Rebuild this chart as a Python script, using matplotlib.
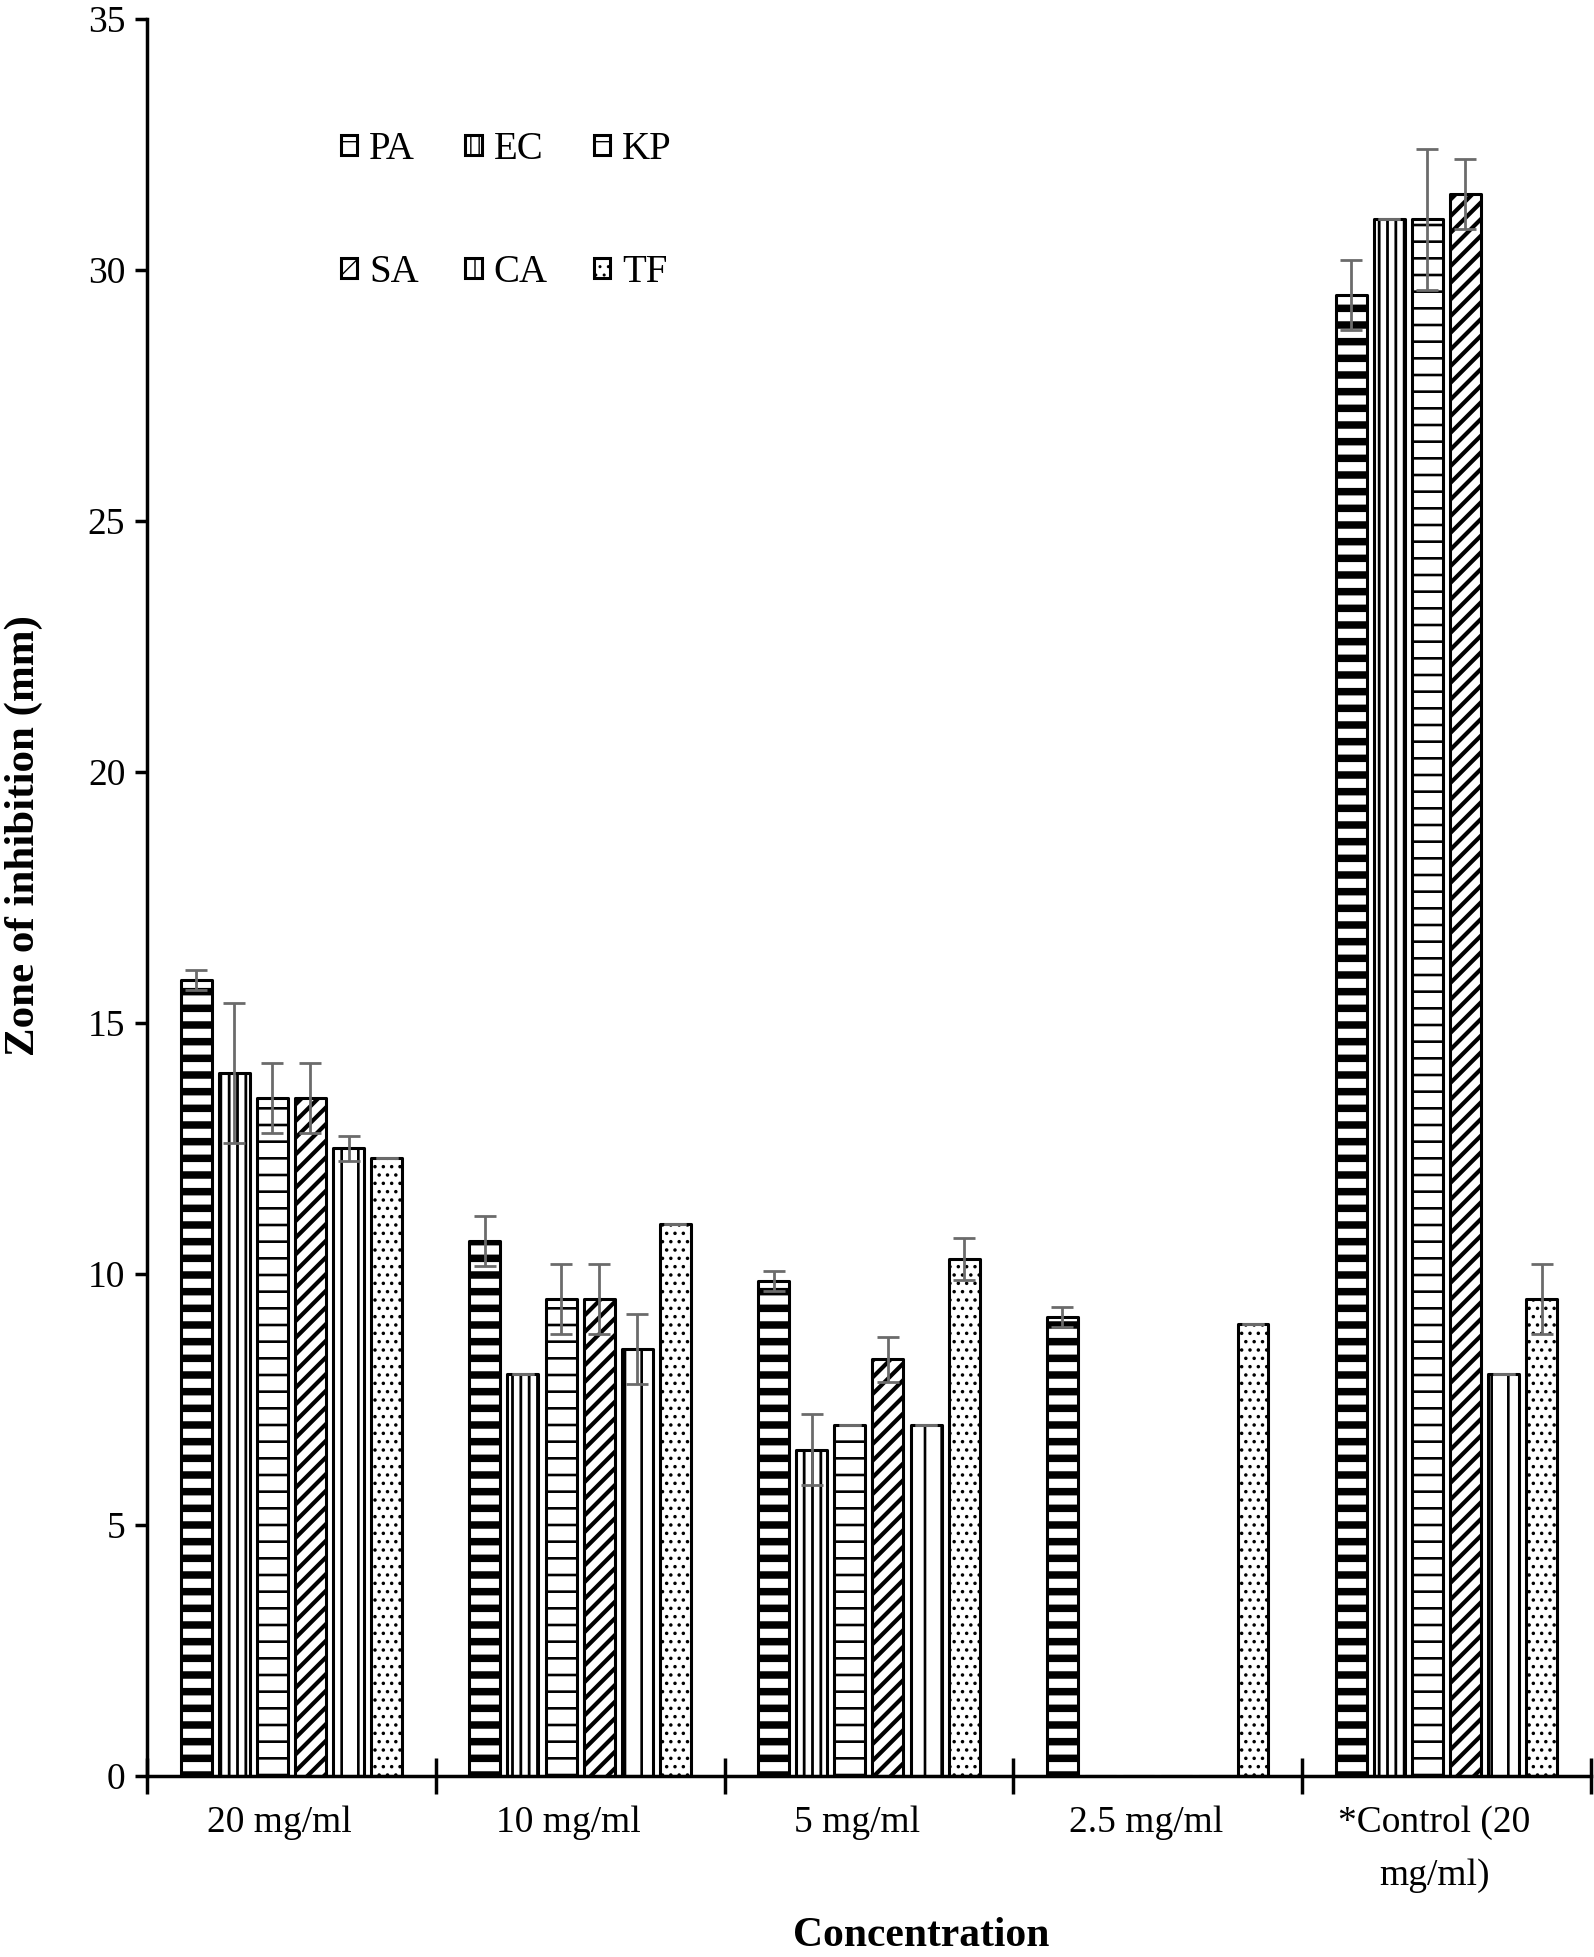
import numpy as np
import matplotlib
matplotlib.use("Agg")
import matplotlib.pyplot as plt
from matplotlib.patches import Patch
from matplotlib.transforms import ScaledTranslation

plt.rcParams['font.family'] = ['Liberation Serif', 'DejaVu Serif']

categories = ["20 mg/ml", "10 mg/ml", "5 mg/ml", "2.5 mg/ml", "*Control (20\nmg/ml)"]
series = ["PA", "EC", "KP", "SA", "CA", "TF"]

PA = [15.85, 10.65, 9.85, 9.15, 29.5]
EC = [14.0, 8.0, 6.5, 0.0, 31.0]
KP = [13.5, 9.5, 7.0, 0.0, 31.0]
SA = [13.5, 9.5, 8.3, 0.0, 31.5]
CA = [12.5, 8.5, 7.0, 0.0, 8.0]
TF = [12.3, 11.0, 10.3, 9.0, 9.5]

PA_err = [0.2, 0.5, 0.2, 0.2, 0.7]
EC_err = [1.4, 0.0, 0.7, 0.0, 0.0]
KP_err = [0.7, 0.7, 0.0, 0.0, 1.4]
SA_err = [0.7, 0.7, 0.45, 0.0, 0.7]
CA_err = [0.25, 0.7, 0.0, 0.0, 0.0]
TF_err = [0.0, 0.0, 0.42, 0.0, 0.7]

values = [PA, EC, KP, SA, CA, TF]
errors = [PA_err, EC_err, KP_err, SA_err, CA_err, TF_err]

hatches = ['-', '||', '-', '//', '|', '..']
hatch_lw = [5.4, 2.0, 1.9, 3.0, 1.9, 1.3]

fig = plt.figure(figsize=(15.94, 19.57), dpi=100)
ax = fig.add_axes([0.0922, 0.0925, 0.9058, 0.898])

x = np.arange(len(categories))
pitch = 0.132
width = 0.107

handles = []
for i, (name, vals, errs) in enumerate(zip(series, values, errors)):
    pos = x + (i - 2.5) * pitch
    with plt.rc_context({'hatch.linewidth': hatch_lw[i]}):
        bars = ax.bar(pos, vals, width=width, facecolor='white', edgecolor='black',
                      linewidth=2.2, hatch=hatches[i], zorder=2)
        for b in bars:
            b.set_joinstyle('round')
            if hasattr(b, 'set_hatch_linewidth'):
                b.set_hatch_linewidth(hatch_lw[i])
        h = Patch(facecolor='white', edgecolor='black', linewidth=2.2, hatch=hatches[i], label=name)
        if hasattr(h, 'set_hatch_linewidth'):
            h.set_hatch_linewidth(hatch_lw[i])
    handles.append(h)
    v = np.array(vals, dtype=float)
    e = np.array(errs, dtype=float)
    mask = v > 0
    ax.errorbar(pos[mask], v[mask], yerr=e[mask], fmt='none', ecolor='#6b6b6b',
                elinewidth=2.0, capsize=8, capthick=2.0, zorder=3)

ax.set_xlim(-0.5, len(categories) - 0.5)
ax.set_ylim(0, 35)
ax.set_yticks(np.arange(0, 36, 5))
ax.set_xticks(np.arange(-0.5, len(categories), 1.0))
ax.set_xticklabels([])
ax.set_xticks(x, minor=True)
ax.set_xticklabels(categories, minor=True, fontsize=27, linespacing=1.7)
ax.tick_params(axis='x', which='major', direction='inout', length=26, width=2.5)
ax.tick_params(axis='x', which='minor', length=0, pad=21, labelsize=27)
ax.tick_params(axis='y', which='major', direction='out', length=8.6, width=2.5, labelsize=27, pad=7)

shift = ScaledTranslation(-0.12, 0, fig.dpi_scale_trans)
for lab in ax.get_xticklabels(minor=True):
    lab.set_transform(lab.get_transform() + shift)

for s in ['top', 'right']:
    ax.spines[s].set_visible(False)
for s in ['left', 'bottom']:
    ax.spines[s].set_linewidth(2.5)

ax.set_ylabel("Zone of inhibition (mm)", fontsize=31, fontweight='bold')
ax.yaxis.set_label_coords(-0.072, 0.535)
ax.set_xlabel("Concentration", fontsize=30, fontweight='bold')
ax.xaxis.set_label_coords(0.536, -0.08)

order = [0, 3, 1, 4, 2, 5]
leg = ax.legend([handles[k] for k in order], [series[k] for k in order], ncol=3,
                loc='upper left', bbox_to_anchor=(0.121, 0.947), frameon=False,
                fontsize=28, handlelength=0.42, handleheight=0.42, handletextpad=0.3,
                columnspacing=1.2, labelspacing=2.2, borderpad=0)

fig.savefig("out.png", dpi=100, facecolor='white')
